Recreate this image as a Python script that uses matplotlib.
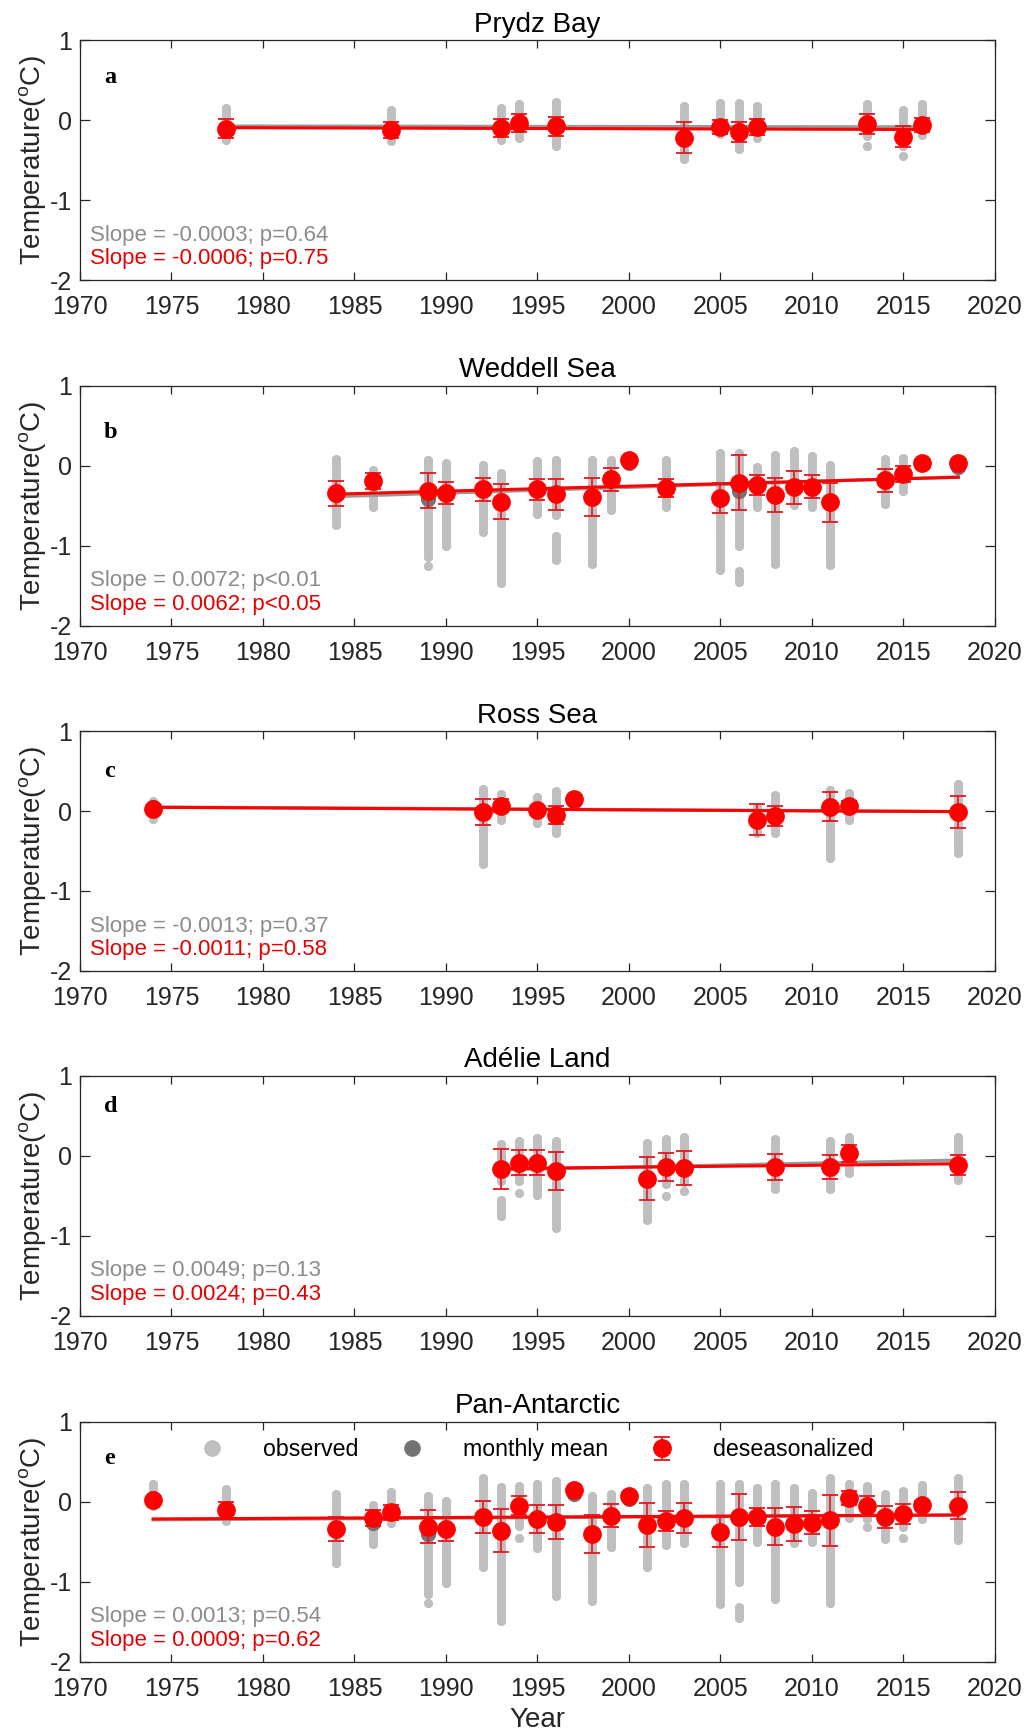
import matplotlib
matplotlib.use('Agg')
import matplotlib.pyplot as plt
from matplotlib.lines import Line2D

plt.rcParams['font.family'] = ['Liberation Sans', 'DejaVu Sans']
plt.rcParams['mathtext.fontset'] = 'custom'
plt.rcParams['mathtext.rm'] = 'Liberation Sans'
plt.rcParams['axes.unicode_minus'] = False

# ---------------- data ----------------
# a: Prydz Bay
years_a = [1978, 1987, 1993, 1994, 1996, 2003, 2005, 2006, 2007, 2013, 2015, 2016]
des_a = [-0.11, -0.13, -0.10, -0.04, -0.08, -0.22, -0.09, -0.15, -0.09, -0.05, -0.21, -0.06]
err_a = [0.12, 0.10, 0.11, 0.11, 0.12, 0.19, 0.09, 0.13, 0.10, 0.12, 0.13, 0.09]
mm_a = [-0.10, -0.12, -0.09, -0.05, -0.07, -0.20, -0.08, -0.13, -0.08, -0.06, -0.19, -0.08]
obs_yr_a = [1978, 1987, 1993, 1994, 1996, 2003, 2005, 2006, 2007, 2013, 2013, 2015, 2015, 2016]
obs_hi_a = [0.15, 0.12, 0.15, 0.20, 0.22, 0.18, 0.21, 0.21, 0.17, 0.20, -0.33, 0.12, -0.45, 0.20]
obs_lo_a = [-0.25, -0.26, -0.25, -0.23, -0.33, -0.49, -0.18, -0.36, -0.22, -0.20, -0.33, -0.32, -0.45, -0.19]
trend_gray_a = [(1978, 2016), (-0.075, -0.086)]
trend_red_a = [(1978, 2016), (-0.095, -0.118)]

# b: Weddell Sea
years_b = [1984, 1986, 1989, 1990, 1992, 1993, 1995, 1996, 1998, 1999, 2000, 2002,
           2005, 2006, 2007, 2008, 2009, 2010, 2011, 2014, 2015, 2016, 2018]
des_b = [-0.345, -0.19, -0.31, -0.345, -0.295, -0.45, -0.295, -0.355, -0.395, -0.17, 0.07, -0.28,
         -0.40, -0.21, -0.24, -0.37, -0.27, -0.26, -0.46, -0.18, -0.10, 0.04, 0.03]
err_b = [0.155, 0.10, 0.22, 0.14, 0.145, 0.22, 0.13, 0.195, 0.24, 0.14, 0.04, 0.11,
         0.19, 0.34, 0.125, 0.215, 0.21, 0.14, 0.24, 0.145, 0.10, 0.03, 0.03]
mm_b = [-0.37, -0.20, -0.42, -0.35, -0.30, -0.44, -0.30, -0.36, -0.39, -0.18, 0.04, -0.28,
        -0.40, -0.32, -0.24, -0.37, -0.27, -0.26, -0.45, -0.18, -0.11, 0.03, -0.01]
obs_yr_b = [1984, 1986, 1989, 1989, 1990, 1992, 1993, 1995, 1996, 1996, 1998, 1999, 2000, 2002,
            2005, 2006, 2006, 2007, 2008, 2009, 2010, 2011, 2014, 2015, 2016, 2018]
obs_hi_b = [0.09, -0.05, 0.07, -1.26, 0.04, 0.01, -0.095, 0.06, 0.07, -0.88, 0.07, 0.07, 0.10, 0.07,
            0.155, 0.155, -1.32, -0.01, 0.135, 0.18, 0.12, 0.015, 0.08, 0.095, 0.07, 0.06]
obs_lo_b = [-0.74, -0.52, -1.14, -1.26, -1.01, -0.825, -1.47, -0.60, -0.62, -1.18, -1.23, -0.55, 0.03, -0.52,
            -1.30, -1.01, -1.46, -0.52, -1.23, -0.49, -0.52, -1.24, -0.48, -0.32, 0.0, -0.05]
trend_gray_b = [(1984, 2018), (-0.385, -0.14)]
trend_red_b = [(1984, 2018), (-0.355, -0.145)]

# c: Ross Sea
years_c = [1974, 1992, 1993, 1995, 1996, 1997, 2007, 2008, 2011, 2012, 2018]
des_c = [0.02, -0.01, 0.065, 0.01, -0.05, 0.146, -0.11, -0.06, 0.055, 0.065, -0.01]
err_c = [0.03, 0.165, 0.08, 0.03, 0.115, 0.03, 0.195, 0.125, 0.18, 0.065, 0.20]
mm_c = [0.05, -0.01, 0.07, 0.01, -0.04, 0.12, -0.10, -0.06, 0.05, 0.06, -0.01]
obs_yr_c = [1974, 1992, 1993, 1995, 1996, 1997, 2007, 2008, 2011, 2012, 2018]
obs_hi_c = [0.12, 0.27, 0.21, 0.18, 0.25, 0.20, 0.05, 0.20, 0.26, 0.23, 0.34]
obs_lo_c = [-0.10, -0.66, -0.11, -0.15, -0.27, 0.10, -0.28, -0.28, -0.59, -0.11, -0.53]
trend_gray_c = [(1974, 2018), (0.05, -0.007)]
trend_red_c = [(1974, 2018), (0.046, -0.008)]

# d: Adelie Land
years_d = [1993, 1994, 1995, 1996, 2001, 2002, 2003, 2008, 2011, 2012, 2018]
des_d = [-0.16, -0.085, -0.085, -0.19, -0.285, -0.14, -0.15, -0.14, -0.14, 0.03, -0.116]
err_d = [0.25, 0.155, 0.155, 0.24, 0.27, 0.18, 0.21, 0.16, 0.15, 0.11, 0.13]
mm_d = [-0.16, -0.09, -0.09, -0.19, -0.30, -0.14, -0.15, -0.14, -0.14, 0.02, -0.12]
obs_yr_d = [1993, 1993, 1994, 1994, 1995, 1996, 2001, 2002, 2002, 2003, 2003, 2008, 2011, 2012, 2018]
obs_hi_d = [0.15, -0.55, 0.18, -0.46, 0.22, 0.19, 0.155, 0.21, -0.50, 0.23, -0.44, 0.21, 0.19, 0.23, 0.23]
obs_lo_d = [-0.32, -0.75, -0.32, -0.46, -0.49, -0.90, -0.80, -0.35, -0.50, -0.33, -0.44, -0.42, -0.41, -0.22, -0.30]
trend_gray_d = [(1993, 2018), (-0.175, -0.055)]
trend_red_d = [(1993, 2018), (-0.16, -0.10)]

# e: Pan-Antarctic
years_e = [1974, 1978, 1984, 1986, 1987, 1989, 1990, 1992, 1993, 1994, 1995, 1996, 1997, 1998, 1999, 2000,
           2001, 2002, 2003, 2005, 2006, 2007, 2008, 2009, 2010, 2011, 2012, 2013, 2014, 2015, 2016, 2018]
des_e = [0.02, -0.105, -0.34, -0.20, -0.13, -0.31, -0.34, -0.19, -0.36, -0.05, -0.215, -0.25, 0.146, -0.40,
         -0.175, 0.075, -0.29, -0.24, -0.20, -0.38, -0.19, -0.19, -0.31, -0.28, -0.26, -0.23, 0.046, -0.05,
         -0.19, -0.155, -0.04, -0.05]
err_e = [0.03, 0.10, 0.145, 0.10, 0.095, 0.21, 0.145, 0.205, 0.27, 0.12, 0.18, 0.215, 0.03, 0.24,
         0.145, 0.03, 0.27, 0.13, 0.19, 0.19, 0.285, 0.11, 0.23, 0.21, 0.145, 0.32, 0.085, 0.12,
         0.135, 0.125, 0.05, 0.17]
mm_e = [0.05, -0.10, -0.34, -0.27, -0.13, -0.40, -0.34, -0.19, -0.34, -0.05, -0.21, -0.25, 0.10, -0.40,
        -0.17, 0.03, -0.29, -0.24, -0.20, -0.38, -0.22, -0.19, -0.31, -0.28, -0.26, -0.23, 0.04, -0.05,
        -0.19, -0.16, -0.05, -0.05]
obs_yr_e = [1974, 1978, 1984, 1986, 1987, 1989, 1989, 1990, 1992, 1993, 1994, 1994, 1995, 1996, 1997,
            1998, 1999, 2000, 2001, 2002, 2003, 2005, 2006, 2006, 2007, 2008, 2009, 2010, 2011, 2012,
            2013, 2013, 2014, 2015, 2015, 2016, 2018]
obs_hi_e = [0.22, 0.16, 0.095, -0.04, 0.12, 0.075, -1.27, 0.01, 0.30, 0.18, 0.20, -0.45, 0.22, 0.26, 0.18,
            0.075, 0.095, 0.10, 0.17, 0.22, 0.22, 0.22, 0.22, -1.32, 0.17, 0.22, 0.17, 0.11, 0.30, 0.22,
            0.20, -0.32, 0.095, 0.14, -0.45, 0.21, 0.30]
obs_lo_e = [-0.05, -0.24, -0.76, -0.53, -0.26, -1.15, -1.27, -1.01, -0.81, -1.49, -0.30, -0.45, -0.58, -1.18, 0.08,
            -1.24, -0.57, 0.0, -0.82, -0.54, -0.51, -1.28, -1.00, -1.45, -0.50, -1.22, -0.51, -0.50, -1.26, -0.20,
            -0.22, -0.32, -0.47, -0.32, -0.45, -0.21, -0.48]
trend_gray_e = [(1974, 2018), (-0.225, -0.168)]
trend_red_e = [(1974, 2018), (-0.215, -0.165)]

titles = ['Prydz Bay', 'Weddell Sea', 'Ross Sea', 'Adélie Land', 'Pan-Antarctic']
letters = ['a', 'b', 'c', 'd', 'e']
slope_gray = ['Slope = -0.0003; p=0.64', 'Slope = 0.0072; p<0.01', 'Slope = -0.0013; p=0.37',
              'Slope = 0.0049; p=0.13', 'Slope = 0.0013; p=0.54']
slope_red = ['Slope = -0.0006; p=0.75', 'Slope = 0.0062; p<0.05', 'Slope = -0.0011; p=0.58',
             'Slope = 0.0024; p=0.43', 'Slope = 0.0009; p=0.62']
legend_labels = ['observed', 'monthly mean', 'deseasonalized']

# ---------------- styling ----------------
OBS = '#bfbfbf'
MM = '#737373'
RED = '#ff0000'
ERRC = '#e8141c'
TGRAY = '#999999'
TXT = '#262626'

panels = [
    (years_a, des_a, err_a, mm_a, obs_yr_a, obs_hi_a, obs_lo_a, trend_gray_a, trend_red_a),
    (years_b, des_b, err_b, mm_b, obs_yr_b, obs_hi_b, obs_lo_b, trend_gray_b, trend_red_b),
    (years_c, des_c, err_c, mm_c, obs_yr_c, obs_hi_c, obs_lo_c, trend_gray_c, trend_red_c),
    (years_d, des_d, err_d, mm_d, obs_yr_d, obs_hi_d, obs_lo_d, trend_gray_d, trend_red_d),
    (years_e, des_e, err_e, mm_e, obs_yr_e, obs_hi_e, obs_lo_e, trend_gray_e, trend_red_e),
]
bottoms = [0.8387, 0.6396, 0.4407, 0.2421, 0.0428]
letter_y = [0.53, 0.41, 0.49, 0.62, 0.54]

fig = plt.figure(figsize=(10.28, 17.36), dpi=100)

for i, (yrs, des, err, mm, oyr, ohi, olo, tg, tr) in enumerate(panels):
    ax = fig.add_axes([0.0778, bottoms[i], 0.890, 0.1382])

    for x, hi, lo in zip(oyr, ohi, olo):
        ax.plot([x, x], [hi, lo], color=OBS, lw=6.4, solid_capstyle='round',
                marker='o', ms=6.4, mew=0, zorder=1)
    ax.plot(yrs, mm, ls='none', marker='o', ms=11, color=MM, mew=0, zorder=2)
    ax.plot(tg[0], tg[1], color=TGRAY, lw=2.4, zorder=3)
    ax.plot(tr[0], tr[1], color=RED, lw=2.2, zorder=4)
    eb = ax.errorbar(yrs, des, yerr=err, fmt='o', color=RED, ms=12.5, mec=RED,
                     ecolor=ERRC, elinewidth=1.2, capsize=6, capthick=1.3, zorder=5)

    ax.set_xlim(1970, 2020)
    ax.set_ylim(-2, 1)
    ax.set_xticks(range(1970, 2021, 5))
    ax.set_yticks([-2, -1, 0, 1])
    ax.set_yticklabels(['-2', '-1', '0', '1'])
    ax.tick_params(direction='in', top=True, right=True, labelsize=18,
                   colors=TXT, width=0.9)
    ax.tick_params(axis='x', length=5.5, pad=11)
    ax.tick_params(axis='y', length=7.5, pad=6)
    for s in ax.spines.values():
        s.set_color(TXT)
        s.set_linewidth(0.9)

    ax.set_title(titles[i], fontsize=20, pad=6)
    ax.set_ylabel('Temperature($^{\\rm o}$C)', fontsize=20, color=TXT)
    ax.yaxis.set_label_coords(-0.034, 0.5)
    ax.text(1971.3, letter_y[i], letters[i], family='Liberation Serif',
            weight='bold', fontsize=17.5, va='center', ha='left')
    ax.text(1970.55, -1.44, slope_gray[i], color='#8c8c8c', fontsize=16, va='center')
    ax.text(1970.55, -1.73, slope_red[i], color='#e60000', fontsize=16, va='center')

    if i == 4:
        ax.set_xlabel('Year', fontsize=20, color=TXT, labelpad=4)
        h_obs = Line2D([], [], ls='none', marker='o', ms=12, color=OBS, mew=0)
        h_mm = Line2D([], [], ls='none', marker='o', ms=12, color=MM, mew=0)
        ax.legend([h_obs, h_mm, eb], legend_labels, ncol=3, frameon=False,
                  loc='center', bbox_to_anchor=(0.493, 0.883), fontsize=16.7,
                  columnspacing=1.3, handletextpad=1.2)

fig.savefig('out.png', dpi=100)
